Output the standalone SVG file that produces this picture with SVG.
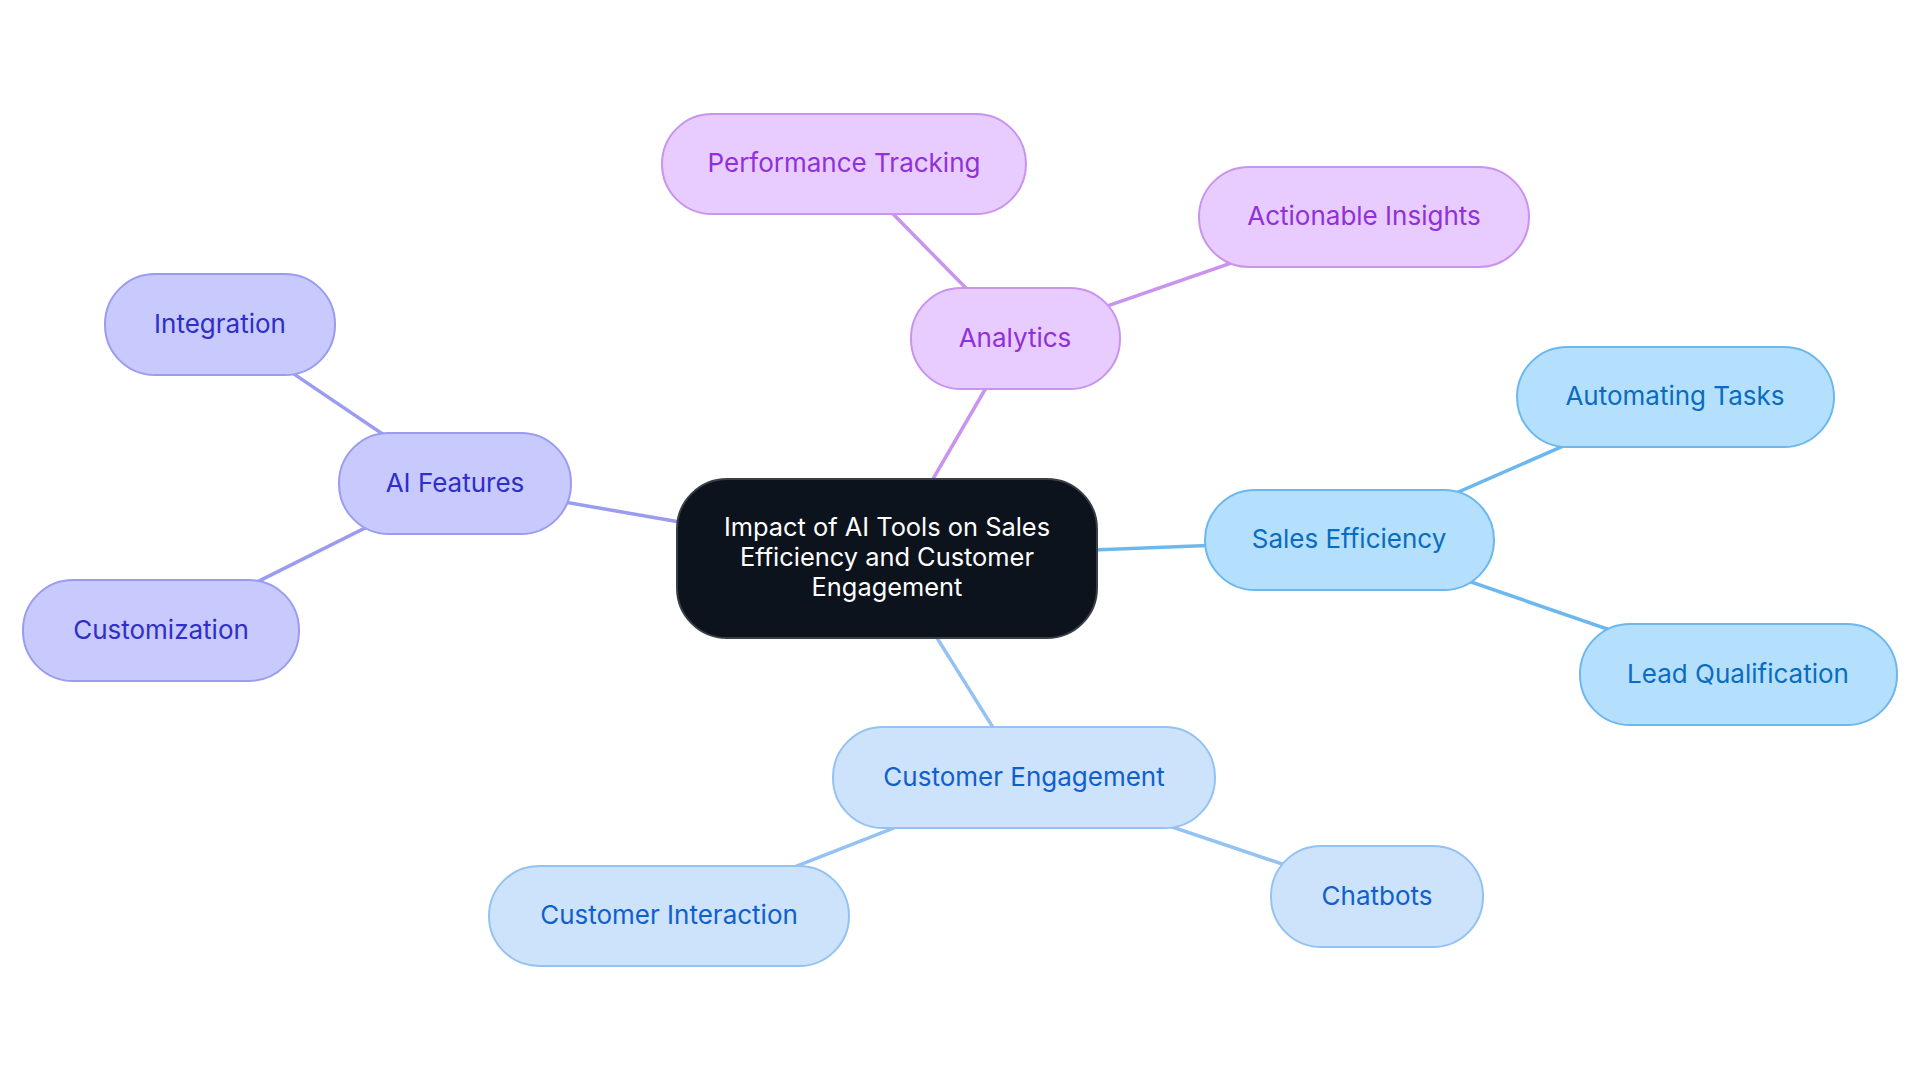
<svg xmlns="http://www.w3.org/2000/svg" width="1920" height="1083" viewBox="0 0 1920 1083">
<style>
text{font-family:Inter,"Noto Sans",sans-serif;font-size:26px;text-anchor:middle;dominant-baseline:central}
#center text{font-size:25.4px;fill:#ffffff}
.c{stroke-width:3.5;fill:none}
.ind{fill:#c8c9fc;stroke:#9a9cf0;stroke-width:2}
.pur{fill:#e8cbff;stroke:#c894ee;stroke-width:2}
.sky{fill:#b5e0fd;stroke:#6cb8ee;stroke-width:2}
.blu{fill:#cde3fb;stroke:#94c2f2;stroke-width:2}
.ti{fill:#2e2ec8}.tp{fill:#9030d8}.ts{fill:#0a6cc0}.tb{fill:#1060cc}
</style>
<rect width="1920" height="1083" fill="#ffffff"/>
<g id="connectors">
<line class="c" stroke="#9a9cf0" x1="887" y1="558" x2="455" y2="483"/>
<line class="c" stroke="#9a9cf0" x1="455" y1="483" x2="220" y2="324"/>
<line class="c" stroke="#9a9cf0" x1="455" y1="483" x2="161" y2="630"/>
<line class="c" stroke="#c894ee" x1="887" y1="558" x2="1015" y2="338"/>
<line class="c" stroke="#c894ee" x1="1015" y1="338" x2="844" y2="164"/>
<line class="c" stroke="#c894ee" x1="1015" y1="338" x2="1364" y2="217"/>
<line class="c" stroke="#6cb8ee" x1="887" y1="558" x2="1349" y2="540"/>
<line class="c" stroke="#6cb8ee" x1="1349" y1="540" x2="1675" y2="397"/>
<line class="c" stroke="#6cb8ee" x1="1349" y1="540" x2="1738" y2="674"/>
<line class="c" stroke="#94c2f2" x1="887" y1="558" x2="1024" y2="777"/>
<line class="c" stroke="#94c2f2" x1="1024" y1="777" x2="669" y2="916"/>
<line class="c" stroke="#94c2f2" x1="1024" y1="777" x2="1377" y2="896"/>
</g>
<g id="center">
<rect x="677" y="479" width="420" height="159" rx="50" fill="#0d131c" stroke="#3a3f46" stroke-width="2"/>
<text x="887" y="526">Impact of AI Tools on Sales</text>
<text x="887" y="556">Efficiency and Customer</text>
<text x="887" y="586">Engagement</text>
</g>
<g id="ai-features"><rect class="ind" x="339" y="433" width="232" height="101" rx="50"/><text class="ti" x="455" y="482">AI Features</text></g>
<g id="integration"><rect class="ind" x="105" y="274" width="230" height="101" rx="50"/><text class="ti" x="220" y="323">Integration</text></g>
<g id="customization"><rect class="ind" x="23" y="580" width="276" height="101" rx="50"/><text class="ti" x="161" y="629">Customization</text></g>
<g id="analytics"><rect class="pur" x="911" y="288" width="209" height="101" rx="50"/><text class="tp" x="1015" y="337">Analytics</text></g>
<g id="performance-tracking"><rect class="pur" x="662" y="114" width="364" height="100" rx="50"/><text class="tp" x="844" y="162">Performance Tracking</text></g>
<g id="actionable-insights"><rect class="pur" x="1199" y="167" width="330" height="100" rx="50"/><text class="tp" x="1364" y="215">Actionable Insights</text></g>
<g id="sales-efficiency"><rect class="sky" x="1205" y="490" width="289" height="100" rx="50"/><text class="ts" x="1349" y="538">Sales Efficiency</text></g>
<g id="automating-tasks"><rect class="sky" x="1517" y="347" width="317" height="100" rx="50"/><text class="ts" x="1675" y="395">Automating Tasks</text></g>
<g id="lead-qualification"><rect class="sky" x="1580" y="624" width="317" height="101" rx="50"/><text class="ts" x="1738" y="673">Lead Qualification</text></g>
<g id="customer-engagement"><rect class="blu" x="833" y="727" width="382" height="101" rx="50"/><text class="tb" x="1024" y="776">Customer Engagement</text></g>
<g id="customer-interaction"><rect class="blu" x="489" y="866" width="360" height="100" rx="50"/><text class="tb" x="669" y="914">Customer Interaction</text></g>
<g id="chatbots"><rect class="blu" x="1271" y="846" width="212" height="101" rx="50"/><text class="tb" x="1377" y="895">Chatbots</text></g>
</svg>
